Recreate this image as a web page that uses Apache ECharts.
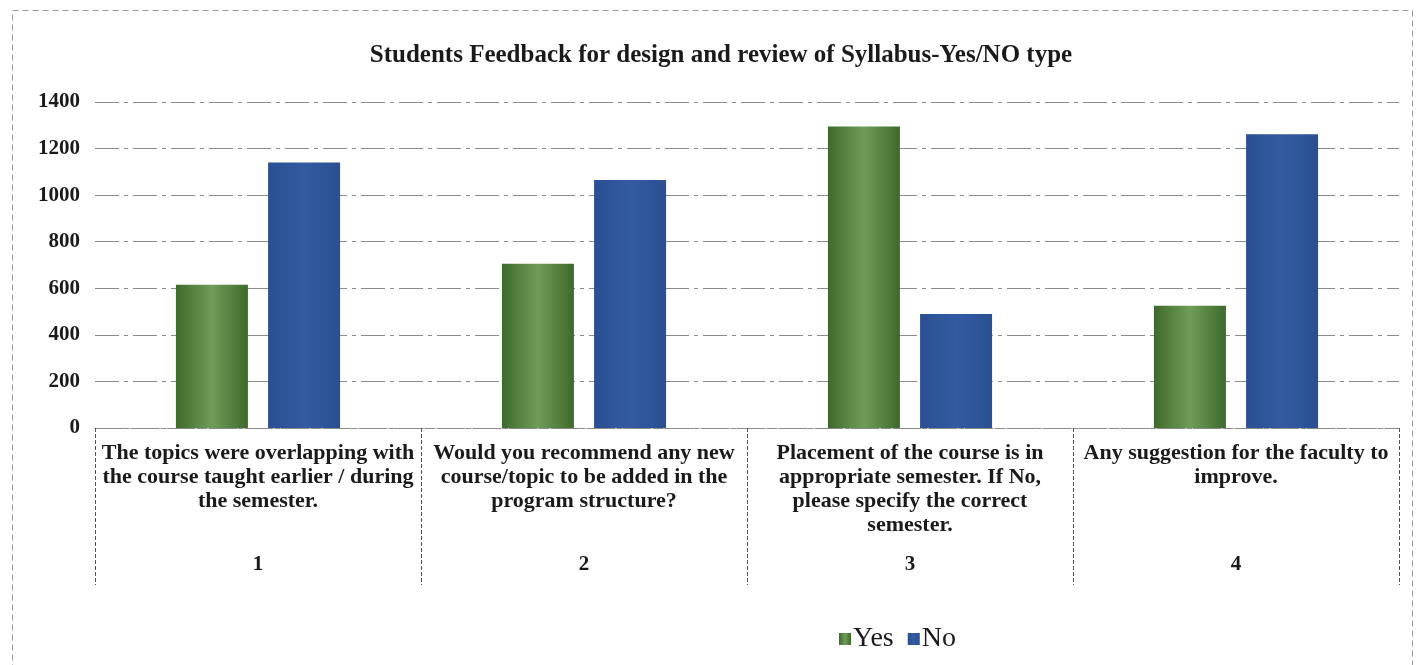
<!DOCTYPE html>
<html>
<head>
<meta charset="utf-8">
<script src="https://cdn.jsdelivr.net/npm/echarts@6/dist/echarts.min.js"></script>
<style>
  html, body { margin: 0; padding: 0; background: #fff; }
  #chart { width: 1416px; height: 665px; }
</style>
</head>
<body>
<div id="chart"></div>
<script>
// 问题文本（按原图换行）
const questions = [
  'The topics were overlapping with\nthe course taught earlier / during\nthe semester.',
  'Would you recommend any new\ncourse/topic to be added in the\nprogram structure?',
  'Placement of the course is in\nappropriate semester. If No,\nplease specify the correct\nsemester.',
  'Any suggestion for the faculty to\nimprove.'
]
const questionNo = ['1', '2', '3', '4']
const yesData = [615, 705, 1295, 525]
const noData = [1140, 1065, 490, 1262]
const yTicks = [0, 200, 400, 600, 800, 1000, 1200, 1400]

const serif = '"Liberation Serif", "Times New Roman", serif'

const chart = echarts.init(document.getElementById('chart'))

const option = {
  backgroundColor: '#fff',
  title: {
    text: 'Students Feedback for design and review of Syllabus-Yes/NO type',
    left: 716,
    top: 38,
    textAlign: 'center',
    textStyle: { fontFamily: serif, fontWeight: 'bold', fontSize: 25, color: '#1a1a1a' }
  },
  legend: {
    data: ['Yes', 'No'],
    left: 834,
    top: 620,
    icon: 'rect',
    itemWidth: 12,
    itemHeight: 12,
    itemGap: 14,
    textStyle: { fontFamily: serif, fontSize: 28, color: '#1a1a1a', padding: [0, 0, 0, -3] }
  },
  grid: { left: 95, right: 17, top: 102, bottom: 237 },
  xAxis: [{
    type: 'category',
    data: questions,
    axisLine: { lineStyle: { color: '#8a8a8a', type: 'dashed' } },
    axisTick: { show: true, length: 157, lineStyle: { color: '#555', type: 'dashed' } },
    axisLabel: {
      interval: 0,
      margin: 13,
      verticalAlign: 'top',
      lineHeight: 24,
      fontFamily: serif,
      fontWeight: 'bold',
      fontSize: 22,
      color: '#1a1a1a'
    }
  }, {
    type: 'category',
    data: questionNo,
    position: 'bottom',
    offset: 120,
    axisLine: { show: false },
    axisTick: { show: false },
    axisLabel: {
      interval: 0,
      margin: 6,
      fontFamily: serif,
      fontWeight: 'bold',
      fontSize: 21,
      color: '#1a1a1a'
    }
  }],
  yAxis: {
    type: 'value',
    min: yTicks[0],
    max: yTicks[yTicks.length - 1],
    interval: 200,
    axisLine: { show: false },
    axisTick: { show: false },
    axisLabel: {
      margin: 15,
      fontFamily: serif,
      fontWeight: 'bold',
      fontSize: 21,
      color: '#1a1a1a',
      formatter: v => String(v)
    },
    splitLine: { lineStyle: { color: '#8a8a8a', width: 1.2, type: [24, 5, 4, 5] } }
  },
  series: [{
    name: 'Yes',
    type: 'bar',
    barWidth: 72,
    barGap: '28%',
    data: yesData,
    itemStyle: {
      color: new echarts.graphic.LinearGradient(0, 0, 1, 0, [
        { offset: 0, color: '#3d6a2b' },
        { offset: 0.5, color: '#6f9d57' },
        { offset: 1, color: '#3d6a2b' }
      ])
    }
  }, {
    name: 'No',
    type: 'bar',
    barWidth: 72,
    data: noData,
    itemStyle: {
      color: new echarts.graphic.LinearGradient(0, 0, 1, 0, [
        { offset: 0, color: '#2a4f92' },
        { offset: 0.5, color: '#335ba1' },
        { offset: 1, color: '#2a4f92' }
      ])
    }
  }],
  graphic: [{
    type: 'rect',
    left: 10,
    top: 8,
    shape: { width: 1400, height: 660 },
    style: { fill: 'none', stroke: '#999', lineWidth: 1, lineDash: [6, 4] },
    silent: true
  }]
}

chart.setOption(option)
</script>
</body>
</html>
